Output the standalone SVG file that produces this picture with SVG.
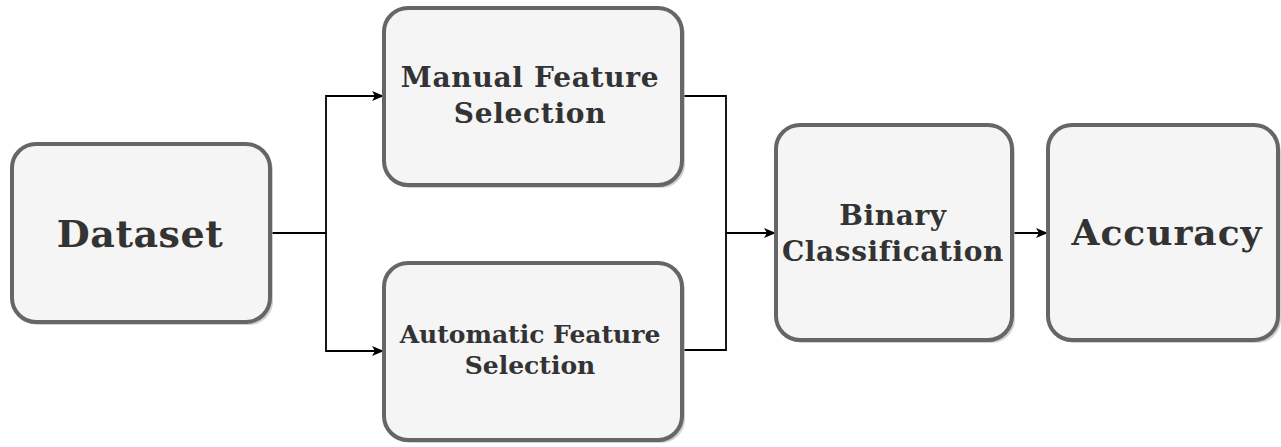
<svg xmlns="http://www.w3.org/2000/svg" width="1281" height="447" viewBox="0 0 1281 447">
<style>
.box{fill:#f5f5f5;stroke:#666666;stroke-width:4}
.sh{fill:#b3b3b3;opacity:0.6}
.t{font-family:"DejaVu Serif",serif;font-weight:bold;fill:#333333;text-anchor:middle}
.c{fill:none;stroke:#000000;stroke-width:1.8}
</style>
<defs>
<marker id="a" markerWidth="12" markerHeight="12" refX="11" refY="6" orient="auto" markerUnits="userSpaceOnUse">
<path d="M0,1 L12,6 L0,11 L3,6 Z" fill="#000"/>
</marker>
</defs>
<rect width="1281" height="447" fill="#fff"/>
<g id="connectors">
<path class="c" d="M270,233 H326 V96 H383" marker-end="url(#a)"/>
<path class="c" d="M326,233 V351 H383" marker-end="url(#a)"/>
<path class="c" d="M682,96 H726 V233 H775" marker-end="url(#a)"/>
<path class="c" d="M682,350 H726 V233"/>
<path class="c" d="M1012,233 H1047" marker-end="url(#a)"/>
</g>
<g id="dataset">
<rect class="sh" x="15" y="147" width="258" height="178" rx="24"/>
<rect class="box" x="12" y="144" width="258" height="178" rx="24"/>
<text class="t" x="140" y="247" font-size="38" letter-spacing="0.5">Dataset</text>
</g>
<g id="manual">
<rect class="sh" x="387" y="11" width="298" height="177" rx="24"/>
<rect class="box" x="384" y="8" width="298" height="177" rx="24"/>
<text class="t" x="530" y="87" font-size="28" letter-spacing="0.7">Manual Feature</text>
<text class="t" x="530" y="123" font-size="28" letter-spacing="0.7">Selection</text>
</g>
<g id="automatic">
<rect class="sh" x="387" y="266" width="298" height="177" rx="24"/>
<rect class="box" x="384" y="263" width="298" height="177" rx="24"/>
<text class="t" x="530" y="343" font-size="25">Automatic Feature</text>
<text class="t" x="530" y="374" font-size="25">Selection</text>
</g>
<g id="binary">
<rect class="sh" x="779" y="128" width="236" height="215" rx="24"/>
<rect class="box" x="776" y="125" width="236" height="215" rx="24"/>
<text class="t" x="893" y="225" font-size="28" letter-spacing="0.6">Binary</text>
<text class="t" x="893" y="261" font-size="28" letter-spacing="0.6">Classification</text>
</g>
<g id="accuracy">
<rect class="sh" x="1051" y="128" width="230" height="215" rx="24"/>
<rect class="box" x="1048" y="125" width="230" height="215" rx="24"/>
<text class="t" x="1167" y="245" font-size="36" letter-spacing="1">Accuracy</text>
</g>
</svg>
